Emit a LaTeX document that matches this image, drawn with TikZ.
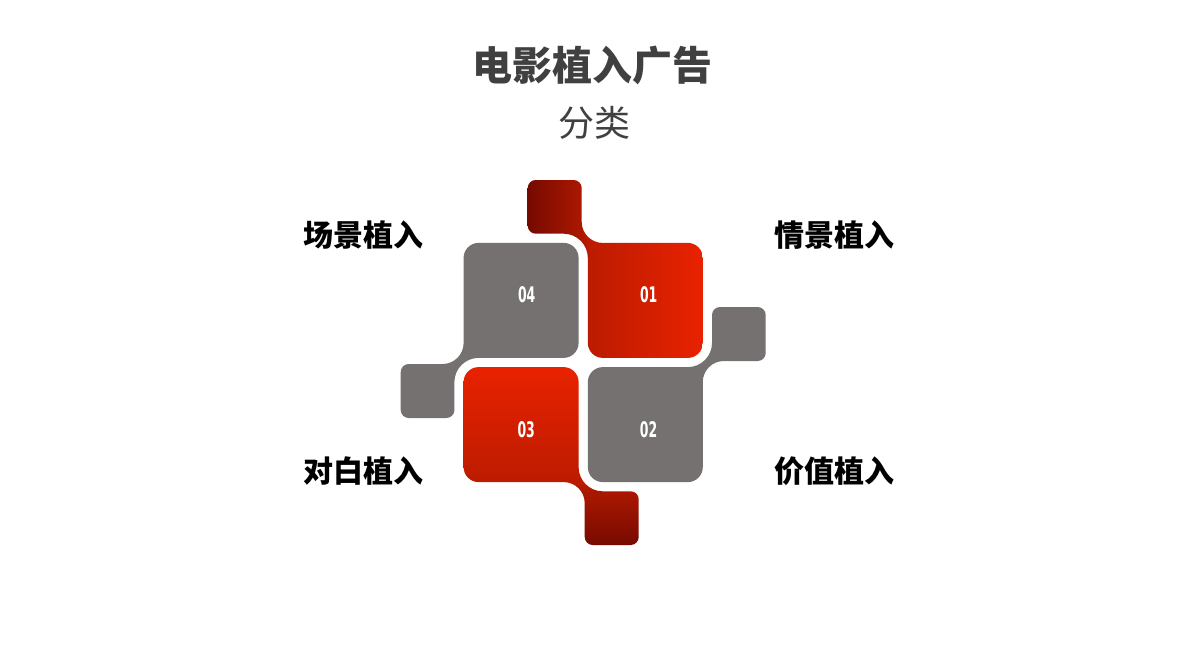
\documentclass[tikz,border=0pt]{standalone}
\usepackage{fontspec}
\newfontfamily\cjk{Noto Sans CJK SC}
\newfontfamily\numfont[FakeStretch=0.58]{DejaVu Sans}
\definecolor{pgray}{RGB}{118,113,113}
\definecolor{rdark}{RGB}{118,10,0}
\definecolor{rtab}{RGB}{172,24,0}
\definecolor{rmain}{RGB}{188,27,0}
\definecolor{rbright}{RGB}{232,34,0}
\definecolor{ttl}{RGB}{64,64,64}
\pgfdeclarehorizontalshading{redh}{100bp}{color(0bp)=(rdark); color(25bp)=(rdark); color(40.5bp)=(rtab); color(42.5bp)=(rmain); color(75bp)=(rbright); color(100bp)=(rbright)}
\pgfdeclareverticalshading{redv}{100bp}{color(0bp)=(rdark); color(25bp)=(rdark); color(40.5bp)=(rtab); color(42.5bp)=(rmain); color(75bp)=(rbright); color(100bp)=(rbright)}
\newcommand\pieceshape{(-47.5,182.5) -- (-9.5,182.5) arc[start angle=90,end angle=0,radius=8]
  -- (-1.5,140.6) arc[start angle=180,end angle=270,radius=21]
  -- (104.6,119.6) arc[start angle=90,end angle=0,radius=15]
  -- (119.6,19.6) arc[start angle=0,end angle=-90,radius=15]
  -- (19.6,4.6) arc[start angle=270,end angle=180,radius=15]
  -- (4.6,104.6) arc[start angle=0,end angle=90,radius=24.2]
  -- (-47.5,128.8) arc[start angle=270,end angle=180,radius=8]
  -- (-55.5,174.5) arc[start angle=180,end angle=90,radius=8] -- cycle}
\tikzset{
  numtxt/.style={font=\numfont\bfseries\fontsize{21.5}{21.5}\selectfont, text=white, anchor=base, inner sep=0pt},
  labtxt/.style={font=\cjk\bfseries\fontsize{30}{30}\selectfont, text=black, anchor=base, inner sep=0pt},
}
\begin{document}
\begin{tikzpicture}[x=1pt,y=1pt]
\useasboundingbox (0,0) rectangle (1190,-669);
\fill[white] (0,0) rectangle (1190,-669);
\begin{scope}[shift={(583.2,-362.5)}]
  % 01
  \begin{scope}
    \path[clip] \pieceshape;
    \shade[shading=redh] (-55.5,0) rectangle (119.6,183);
  \end{scope}
  % 02
  \fill[pgray, rotate=-90] \pieceshape;
  % 03
  \begin{scope}
    \path[clip, rotate=180] \pieceshape;
    \shade[shading=redv] (-120,-182.5) rectangle (56,-4.6);
  \end{scope}
  % 04
  \fill[pgray, rotate=90] \pieceshape;
\end{scope}
\node[numtxt] (n01) at (648.7,-302) {01};
\node[numtxt] (n02) at (648.5,-437) {02};
\node[numtxt] (n03) at (526.2,-437) {03};
\node[numtxt] (n04) at (526.7,-302) {04};
\node[labtxt] (l1) at (834,-246.4) {情景植入};
\node[labtxt] (l2) at (834,-482.4) {价值植入};
\node[labtxt] (l3) at (363,-482.4) {对白植入};
\node[labtxt] (l4) at (363,-246.4) {场景植入};
\node[font=\cjk\bfseries\fontsize{40}{40}\selectfont, text=ttl, anchor=base, inner sep=0pt] (title) at (592,-80.7) {电影植入广告};
\node[font=\cjk\fontsize{36}{36}\selectfont, text=ttl, anchor=base, inner sep=0pt] (sub) at (594,-136.2) {分类};
\end{tikzpicture}
\end{document}
